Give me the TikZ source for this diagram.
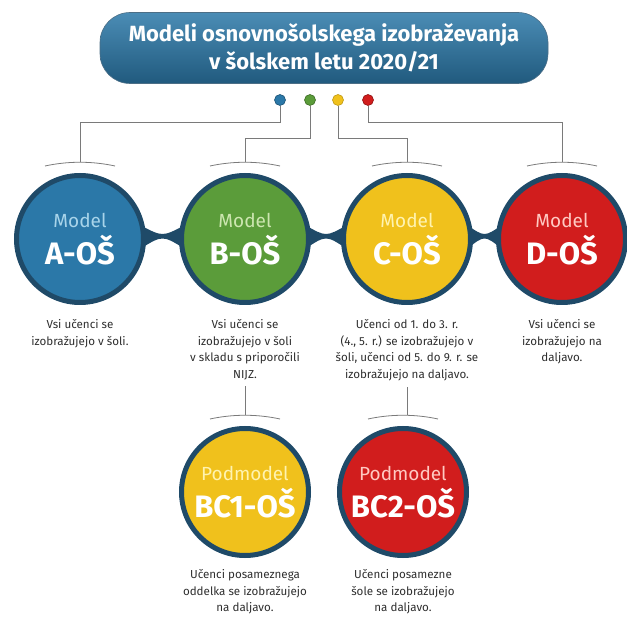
\documentclass[tikz,border=0pt]{standalone}
\usepackage{fontspec}
\setmainfont{Fira Sans}
\usetikzlibrary{positioning,calc,backgrounds}

\definecolor{ringc}{HTML}{1F4A68}
\definecolor{wirec}{HTML}{7A7A7A}
\definecolor{txtc}{HTML}{2E2E2E}
\definecolor{modA}{HTML}{2B78A8}
\definecolor{modB}{HTML}{5B9C3A}
\definecolor{modC}{HTML}{F0C11C}
\definecolor{modD}{HTML}{D11D1D}
\definecolor{tintA}{HTML}{A8D4EA}
\definecolor{tintB}{HTML}{CDE6B0}
\definecolor{tintC}{HTML}{FFF3B0}
\definecolor{tintD}{HTML}{FFC9C2}

\newcommand\modeltext[3]{{\fontsize{19}{19}\selectfont\color{#1}#2}\\[7pt]{\fontsize{31}{31}\selectfont\bfseries #3}}
\newcommand\ringbridge[2]{%
  \fill[ringc] ([shift={(-6,-14)}]#1.east) .. controls ($(#1.east)!.5!(#2.west)+(0,-2)$) .. ([shift={(6,-14)}]#2.west)
    -- ([shift={(6,10)}]#2.west) .. controls ($(#1.east)!.5!(#2.west)+(0,-4)$) .. ([shift={(-6,10)}]#1.east) -- cycle;}

\tikzset{
  model/.style={circle,minimum size=127pt,inner sep=0pt,draw=ringc,line width=5pt,
    align=center,text=white},
  dot/.style={circle,minimum size=11pt,inner sep=0pt,line width=0.6pt},
  wire/.style={draw=wirec,line width=0.9pt},
  rim/.style={draw=wirec,line width=0.8pt},
  note/.style={align=center,text=txtc,font=\fontsize{11.6}{16.8}\selectfont,inner sep=0pt},
  banner/.style={rounded corners=30pt,minimum width=448pt,minimum height=71pt,
    top color=modA!85!white,bottom color=modA!75!black,draw=ringc!80,line width=0.6pt,
    text=white,align=center,font=\bfseries\fontsize{22}{28}\selectfont}
}

\begin{document}
\begin{tikzpicture}[x=1pt,y=-1pt]
  \useasboundingbox (0,0) rectangle (627,617);
  % title and colour dots
  \node[banner] (title) at (324,48) {Modeli osnovnošolskega izobraževanja\\v šolskem letu 2020/21};
  \node[dot,fill=modA,draw=modA!70!black] (d1) at (280,100) {};
  \node[dot,fill=modB,draw=modB!70!black] (d2) at (310,100) {};
  \node[dot,fill=modC,draw=modC!80!black] (d3) at (338,100) {};
  \node[dot,fill=modD,draw=modD!70!black] (d4) at (368,100) {};

  % models
  \node[model,fill=modA] (a) at (80,239)  {\modeltext{tintA}{Model}{A-OŠ}};
  \node[model,fill=modB] (b) at (245,239) {\modeltext{tintB}{Model}{B-OŠ}};
  \node[model,fill=modC] (c) at (407,239) {\modeltext{tintC}{Model}{C-OŠ}};
  \node[model,fill=modD] (d) at (562,239) {\modeltext{tintD}{Model}{D-OŠ}};

  % sub-models
  \node[model,fill=modC] (p1) at (245,492) {\modeltext{tintC}{Podmodel}{BC1-OŠ}};
  \node[model,fill=modD] (p2) at (403,492) {\modeltext{tintD}{Podmodel}{BC2-OŠ}};

  \begin{scope}[on background layer]
    \ringbridge{a}{b}
    \ringbridge{b}{c}
    \ringbridge{c}{d}
  \end{scope}

  % notes
  \node[note,below=14pt of a] (ta) {Vsi učenci se\\izobražujejo v šoli.};
  \node[note,below=14pt of b] (tb) {Vsi učenci se\\izobražujejo v šoli\\v skladu s priporočili\\NIJZ.};
  \node[note,below=14pt of c] (tc) {Učenci od 1. do 3. r.\\(4., 5. r.) se izobražujejo v\\šoli, učenci od 5. do 9. r. se\\izobražujejo na daljavo.};
  \node[note,below=14pt of d] (td) {Vsi učenci se\\izobražujejo na\\daljavo.};
  \node[note,below=11pt of p1] (tp1) {Učenci posameznega\\oddelka se izobražujejo\\na daljavo.};
  \node[note,below=11pt of p2] (tp2) {Učenci posamezne\\šole se izobražujejo\\na daljavo.};

  % wires
  \draw[wire] (d1) -- ++(0,22) -| ([yshift=11pt]a.north);
  \draw[wire] (d2) -- ++(0,38) -| ([yshift=11pt]b.north);
  \draw[wire] (d3) -- ++(0,38) -| ([yshift=11pt]c.north);
  \draw[wire] (d4) -- ++(0,22) -| ([yshift=11pt]d.north);
  \draw[wire] ([yshift=-6pt]tb.south) -- ($(tb.south |- p1.north)+(0,-11)$);
  \draw[wire] ([yshift=-6pt]tc.south) -- ($(tc.south |- p2.north)+(0,-11)$);

  \foreach \n in {a,b,c,d,p1,p2} {
    \draw[rim] ([shift={(-35,-7)}]\n.north) .. controls ([shift={(-12,-12)}]\n.north)
      and ([shift={(12,-12)}]\n.north) .. ([shift={(35,-7)}]\n.north);
  }
\end{tikzpicture}
\end{document}
